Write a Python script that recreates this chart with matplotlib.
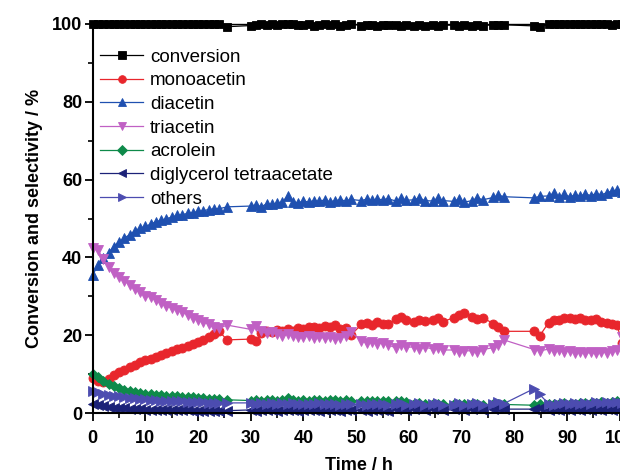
import matplotlib
matplotlib.use("Agg")
import matplotlib.pyplot as plt
from matplotlib.ticker import MultipleLocator

plt.rcParams['font.family'] = ['Liberation Sans', 'DejaVu Sans']

time = [
    0, 1, 2, 3, 4, 5, 6, 7, 8, 9, 10, 11, 12, 13, 14, 15, 16, 17, 18, 19, 20, 21, 22, 23, 24, 25.5,
    30, 31, 32, 33, 34, 35, 36, 37, 38, 39, 40, 41, 42, 43, 44, 45, 46, 47, 48, 49,
    51, 52, 53, 54, 55, 56,
    57.5, 58.5, 59.5, 61, 62, 63, 64.5, 65.5, 66.5, 68.5, 69.5, 70.5, 72, 73, 74, 76, 77, 78,
    83.8, 84.8,
    86.5, 87.5, 88.5, 89.5, 90.5, 91.5, 92.5, 93.5, 94.5, 95.5, 96.5, 97.5, 98.5, 99.5,
    100.5]

conversion = [
    100, 100, 100, 100, 100, 100, 100, 100, 100, 100, 100, 100, 100, 100, 100, 100, 100, 100, 100, 100, 100, 100, 100, 100, 100, 99.3,
    99.6, 99.8, 100, 99.7, 100, 99.8, 100, 99.9, 100, 99.7, 99.8, 100, 99.6, 99.8, 100, 99.7, 99.9, 99.6, 99.8, 100,
    99.6, 99.8, 99.7, 99.6, 99.8, 99.7,
    99.7, 99.5, 99.7, 99.6, 99.8, 99.6, 99.7, 99.4, 99.7, 99.7, 99.4, 99.7, 99.6, 99.7, 99.6, 99.8, 99.8, 99.8,
    99.5, 99.3,
    99.9, 100, 100, 100, 100, 100, 100, 100, 100, 100, 100, 100, 99.8, 100,
    100]

monoacetin = [
    9.0, 8.2, 8.0, 8.8, 9.8, 10.5, 11.0, 11.8, 12.3, 13.0, 13.5, 14.0, 14.5, 15.0, 15.5, 16.0, 16.4, 16.8, 17.2, 17.8, 18.2, 18.8, 19.5, 20.3, 21.0, 18.8,
    19.0, 18.5, 20.5, 21.0, 20.8, 21.3, 21.0, 21.5, 21.2, 21.8, 21.5, 22.0, 22.2, 21.8, 22.3, 22.0, 22.5, 21.5, 21.8, 20.0,
    22.8, 23.2, 22.5, 23.5, 23.0, 22.8,
    24.2, 24.8, 24.0, 23.5, 24.0, 23.6, 23.8, 24.5, 23.5, 24.5, 25.2, 25.8, 24.8, 24.2, 24.5, 23.0, 22.0, 21.0,
    21.0, 19.8,
    23.2, 23.8, 24.0, 24.3, 24.5, 24.2, 24.5, 24.0, 23.8, 24.2, 23.5, 23.2, 22.8, 22.5,
    18.0]

diacetin = [
    35.5, 38.0, 39.8, 41.2, 42.8, 44.0, 45.0, 45.8, 46.8, 47.5, 48.0, 48.5, 49.2, 49.5, 50.0, 50.3, 50.8, 51.0, 51.3, 51.5, 51.8, 52.0, 52.3, 52.5, 52.5, 53.0,
    53.2, 53.5, 53.0, 53.8, 53.6, 54.0, 54.2, 55.8, 54.3, 54.0, 54.5, 54.2, 54.6, 54.4, 54.8, 54.3, 54.6, 54.8, 54.5, 54.9,
    54.6, 55.0, 54.7, 55.0, 54.8, 55.1,
    54.5, 55.2, 54.7, 54.8, 55.3, 54.6, 54.5, 55.2, 54.6, 54.4, 55.0, 54.2, 54.6, 55.3, 54.8, 55.4, 56.0, 55.6,
    55.3, 55.7,
    55.8, 56.5, 55.5, 56.2, 55.6, 56.0, 55.8, 56.3, 55.9, 56.4, 56.1, 56.6, 57.0, 57.3,
    56.8]

triacetin = [
    42.5, 42.0, 39.5, 37.5, 36.0, 35.0, 34.0, 33.0, 31.8, 31.0, 30.2, 29.8, 29.0, 28.2, 27.5, 27.0, 26.5, 26.0, 25.3, 24.5, 24.0, 23.5, 22.8, 22.0, 21.8, 22.6,
    21.5, 22.3, 21.0, 20.5, 20.8, 20.2, 19.8, 20.3, 19.8, 19.6, 19.5, 19.9, 19.4, 19.6, 19.2, 19.5, 19.0, 19.4, 19.8, 20.8,
    18.6, 18.0, 18.3, 17.8, 18.0, 17.5,
    16.8, 17.4, 16.9, 17.0, 16.5, 16.9, 16.5, 16.8, 16.2, 16.2, 15.6, 16.0, 16.0, 15.6, 16.3, 16.8, 17.5, 18.8,
    16.3, 16.0,
    16.4, 16.0, 16.3, 15.8, 16.0, 15.5, 15.8, 15.3, 15.6, 15.4, 15.7, 15.5, 15.9, 16.3,
    19.5]

acrolein = [
    10.0, 9.2, 8.3, 7.5, 6.9, 6.4, 6.0, 5.7, 5.4, 5.2, 5.0, 4.9, 4.7, 4.6, 4.5, 4.4, 4.3, 4.2, 4.1, 4.0, 3.9, 3.8, 3.7, 3.6, 3.5, 3.4,
    3.2, 3.3, 3.1, 3.4, 3.3, 3.2, 3.4, 3.8, 3.3, 3.2, 3.3, 3.2, 3.3, 3.4, 3.2, 3.3, 3.4, 3.2, 3.3, 3.2,
    3.1, 3.2, 3.0, 3.1, 3.2, 3.0,
    3.0, 3.1, 2.9, 2.4, 2.5, 2.3, 2.3, 2.4, 2.2, 2.3, 2.4, 2.2, 2.2, 2.3, 2.1, 2.2, 2.3, 2.2,
    2.0, 2.2,
    2.3, 2.4, 2.2, 2.5, 2.3, 2.4, 2.6, 2.5, 2.7, 2.6, 2.8, 2.7, 2.9, 3.0,
    3.0]

diglycerol = [
    2.3, 2.0, 1.8, 1.6, 1.4, 1.3, 1.2, 1.1, 1.0, 1.0, 0.9, 0.9, 0.8, 0.8, 0.8, 0.7, 0.7, 0.7, 0.7, 0.6, 0.6, 0.6, 0.6, 0.6, 0.5, 0.6,
    0.8, 0.6, 0.9, 0.7, 0.8, 0.6, 0.9, 0.7, 0.8, 0.6, 0.9, 0.7, 0.8, 0.6, 0.9, 0.7, 0.8, 0.6, 0.9, 0.7,
    0.8, 0.6, 0.9, 0.7, 0.8, 0.6,
    1.0, 1.3, 0.9, 1.0, 1.3, 0.9, 1.0, 1.3, 0.9, 1.0, 1.3, 0.9, 1.0, 1.3, 0.9, 1.0, 1.3, 1.0,
    1.0, 1.2,
    0.9, 1.1, 0.8, 1.0, 0.9, 1.1, 0.8, 1.0, 0.9, 1.1, 0.8, 1.0, 0.9, 1.1,
    1.0]

others = [
    5.6, 5.3, 5.0, 4.7, 4.5, 4.3, 4.1, 3.9, 3.8, 3.6, 3.5, 3.4, 3.3, 3.2, 3.1, 3.1, 3.0, 3.0, 2.9, 2.9, 2.8, 2.8, 2.7, 2.7, 2.6, 2.6,
    2.6, 2.4, 2.5, 2.3, 2.5, 2.4, 2.6, 2.3, 2.5, 2.4, 2.2, 2.4, 2.3, 2.5, 2.2, 2.4, 2.3, 2.1, 2.4, 2.2,
    2.3, 2.1, 2.4, 2.2, 2.3, 2.1,
    2.2, 2.5, 2.1, 2.2, 2.6, 2.1, 2.2, 2.6, 2.0, 2.1, 2.6, 2.0, 2.2, 2.6, 2.1, 2.3, 2.8, 2.4,
    6.3, 4.8,
    2.4, 2.0, 2.3, 2.5, 2.2, 2.6, 2.3, 2.7, 2.4, 2.8, 2.5, 2.9, 2.6, 2.8,
    2.6]

labels = ['conversion', 'monoacetin', 'diacetin', 'triacetin', 'acrolein',
          'diglycerol tetraacetate', 'others']
series = [conversion, monoacetin, diacetin, triacetin, acrolein, diglycerol, others]
colors = ['#000000', '#e8262c', '#1f50b0', '#c060c4', '#0e8a4a', '#1c2278', '#4c4cb0']
markers = ['s', 'o', '^', 'v', 'D', '<', '>']
msizes = [6, 6.5, 6.5, 6.5, 5.5, 6.5, 6.5]

fig = plt.figure(figsize=(6.2, 4.75), dpi=100)
ax = fig.add_axes([0.1495, 0.1305, 0.867, 0.819])

for ys, lab, c, m, ms in zip(series, labels, colors, markers, msizes):
    ax.plot(time, ys, color=c, marker=m, markersize=ms, markeredgewidth=0.6,
            markeredgecolor=c, linewidth=0.9, label=lab, clip_on=False)

ax.set_xlim(0, 102)
ax.set_ylim(0, 100)
ax.xaxis.set_major_locator(MultipleLocator(10))
ax.xaxis.set_minor_locator(MultipleLocator(5))
ax.yaxis.set_major_locator(MultipleLocator(20))
ax.yaxis.set_minor_locator(MultipleLocator(10))
ax.tick_params(which='major', direction='out', length=6, width=1.3, labelsize=13)
ax.tick_params(which='minor', direction='out', length=3.5, width=1.2)
ax.tick_params(axis='y', which='major', pad=1.5)
ax.tick_params(axis='x', which='major', pad=6)
for lbl in ax.get_xticklabels() + ax.get_yticklabels():
    lbl.set_fontweight('bold')
for s in ax.spines.values():
    s.set_linewidth(1.5)
ax.spines['top'].set_linewidth(1.0)

ax.set_xlabel('Time / h', fontsize=13, fontweight='bold')
ax.set_ylabel('Conversion and selectivity / %', fontsize=13, fontweight='bold')
ax.xaxis.set_label_coords(0.495, -0.112)
ax.yaxis.set_label_coords(-0.093, 0.5)

leg = ax.legend(loc='upper left', bbox_to_anchor=(0.0136, 0.937), frameon=False,
                fontsize=13.5, borderaxespad=0, borderpad=0, labelspacing=0.35,
                handlelength=2.3, handletextpad=0.37, markerscale=0.85)

fig.savefig('out.png', dpi=100)
